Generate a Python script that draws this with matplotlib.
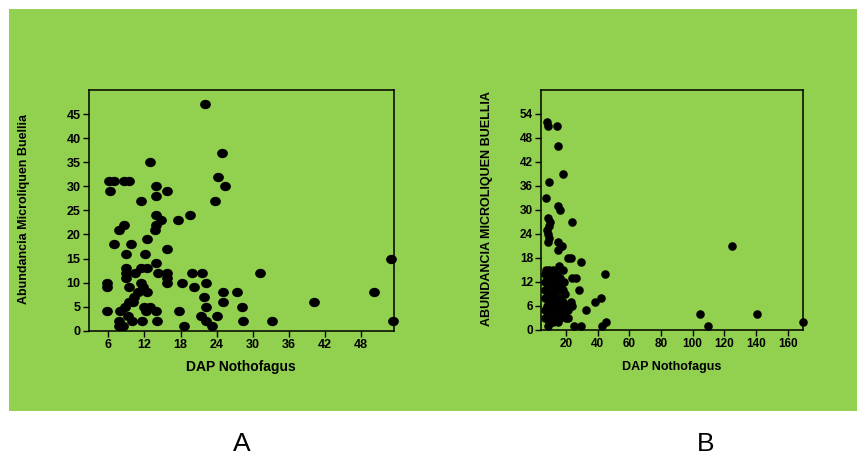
import matplotlib.pyplot as plt
from matplotlib.patches import Rectangle
from matplotlib.path import Path
from matplotlib.transforms import Affine2D

plt.rcParams['font.family'] = ['Liberation Sans', 'DejaVu Sans']

GREEN = '#92d050'

# Panel A: DAP vs abundance
dap_a = [22.0, 24.8, 13.0, 24.3, 25.3, 23.7,
         6.2, 7.0, 8.6, 9.4, 6.3,
         11.5, 14.0, 14.0, 15.7,
         14.0, 14.7, 14.0, 13.7,
         17.5, 19.6, 12.5, 7.8, 8.6,
         6.9, 9.7, 8.9, 12.1, 15.8, 14.0,
         9.0, 9.0, 9.0, 10.5, 11.4, 12.4,
         15.8, 15.8, 15.8, 14.2,
         19.9, 21.6, 31.2, 53.0,
         5.8, 5.8, 18.2, 22.2, 20.3,
         11.4, 11.8, 11.0, 12.5, 9.4,
         21.9, 25.1, 27.4, 25.1, 28.2, 50.1, 40.1, 22.3,
         5.8, 7.9, 8.7, 9.5, 10.2, 10.1,
         12.0, 13.0, 12.3, 14.0, 17.8,
         21.4, 24.1, 22.3, 23.3, 18.5, 28.4, 33.2, 53.3,
         7.8, 7.8, 8.5, 9.3, 10.0, 11.6, 14.1]
abund_a = [47, 37, 35, 32, 30, 27,
           31, 31, 31, 31, 29,
           27, 30, 28, 29,
           24, 23, 22, 21,
           23, 24, 19, 21, 22,
           18, 18, 16, 16, 17, 14,
           13, 12, 11, 12, 13, 13,
           12, 11, 10, 12,
           12, 12, 12, 15,
           10, 9, 10, 10, 9,
           10, 9, 8, 8, 9,
           7, 8, 8, 6, 5, 8, 6, 5,
           4, 4, 5, 6, 7, 6,
           5, 5, 4, 4, 4,
           3, 3, 2, 1, 1, 2, 2, 2,
           2, 1, 1, 3, 2, 2, 2]

# Panel B: DAP vs abundance
dap_b = [7.8, 8.8, 14.1, 14.9, 18.3, 9.5, 7.4, 14.7, 16.2, 8.6,
         9.9, 9.1, 24.0, 7.8, 8.5, 9.5, 8.8, 15.0, 17.7, 14.7,
         124.6, 21.0, 23.0, 29.5, 15.8, 17.9, 7.2, 9.3, 44.6, 23.8,
         26.1, 28.4, 18.3, 41.9, 38.5, 22.9, 23.6, 32.8, 104.6, 140.6,
         169.7, 109.5, 45.3, 43.0, 25.0, 29.5, 8.8, 21.0, 14.7,
         6.5, 7.0, 6.8, 7.5, 6.6, 7.0, 8.0, 8.5, 9.0, 9.5,
         8.0, 8.5, 10.0, 10.5, 11.0, 10.0, 11.0, 10.0, 11.5, 12.0,
         12.5, 13.0, 12.0, 13.0, 12.5, 13.5, 14.0, 14.5, 15.0, 14.0,
         15.5, 15.0, 16.0, 17.0, 16.5, 17.0, 18.0, 19.0, 18.5, 20.0,
         20.0, 21.0, 19.5, 6.5, 9.0, 12.0, 16.0]
abund_b = [52, 51, 51, 46, 39, 37, 33, 31, 30, 28,
           27, 26, 27, 25, 24, 23, 22, 22, 21, 20,
           21, 18, 18, 17, 16, 15, 15, 15, 14, 13,
           13, 10, 10, 8, 7, 7, 6, 5, 4, 4,
           2, 1, 2, 1, 1, 1, 1, 3, 2,
           14, 12, 10, 8, 5, 3, 13, 11, 9, 7,
           6, 4, 14, 12, 10, 8, 6, 5, 3, 15,
           13, 11, 9, 7, 5, 4, 14, 12, 10, 8,
           6, 4, 13, 11, 8, 5, 7, 12, 4, 3,
           6, 5, 9, 8, 2, 2, 3]

fig = plt.figure(figsize=(8.58, 4.58), dpi=100)
fig.patches.append(Rectangle((9 / 858, 47 / 458), 848 / 858, 402 / 458,
                             transform=fig.transFigure, facecolor=GREEN,
                             edgecolor='none', zorder=-1))

# slightly wide dots for the left panel
oval = Path.unit_circle().transformed(Affine2D().scale(1.15, 1.0))

ax_a = fig.add_axes([0.1034, 0.2779, 0.3555, 0.5256])
ax_b = fig.add_axes([0.6309, 0.2795, 0.3050, 0.5240])

ax_a.scatter(dap_a, abund_a, s=60, marker=oval, c='black', linewidths=0,
             clip_on=False, zorder=3)
ax_b.scatter(dap_b, abund_b, s=38, marker='o', c='black', linewidths=0,
             clip_on=False, zorder=3)

ax_a.set_xlim(2.75, 53.4)
ax_a.set_ylim(0, 50)
ax_a.set_xticks(range(6, 49, 6))
ax_a.set_yticks(range(0, 46, 5))

ax_b.set_xlim(4.4, 169.7)
ax_b.set_ylim(0, 60)
ax_b.set_xticks(range(20, 161, 20))
ax_b.set_yticks(range(0, 55, 6))

for ax, fs in ((ax_a, 9), (ax_b, 8.5)):
    ax.set_facecolor('none')
    for sp in ax.spines.values():
        sp.set_linewidth(1.1)
        sp.set_color('black')
    ax.tick_params(direction='out', length=4, width=1, pad=2,
                   labelsize=fs, colors='black')
    for lab in ax.get_xticklabels() + ax.get_yticklabels():
        lab.set_fontweight('bold')

fig.text(241 / 858, 1 - 367 / 458, 'DAP Nothofagus', ha='center', va='center',
         fontsize=10, fontweight='bold')
fig.text(672 / 858, 1 - 367 / 458, 'DAP Nothofagus', ha='center', va='center',
         fontsize=9, fontweight='bold')
fig.text(24 / 858, 1 - 209 / 458, 'Abundancia Microliquen Buellia', rotation=90,
         ha='center', va='center', fontsize=9, fontweight='bold')
fig.text(486.5 / 858, 1 - 209 / 458, 'ABUNDANCIA MICROLIQUEN BUELLIA', rotation=90,
         ha='center', va='center', fontsize=9, fontweight='bold')

# panel letters under the green block
fig.text(242 / 858, 1 - 451 / 458, 'A', ha='center', va='baseline', fontsize=19)
fig.text(706 / 858, 1 - 451 / 458, 'B', ha='center', va='baseline', fontsize=19)

fig.savefig('out.png', dpi=100, facecolor='white')
